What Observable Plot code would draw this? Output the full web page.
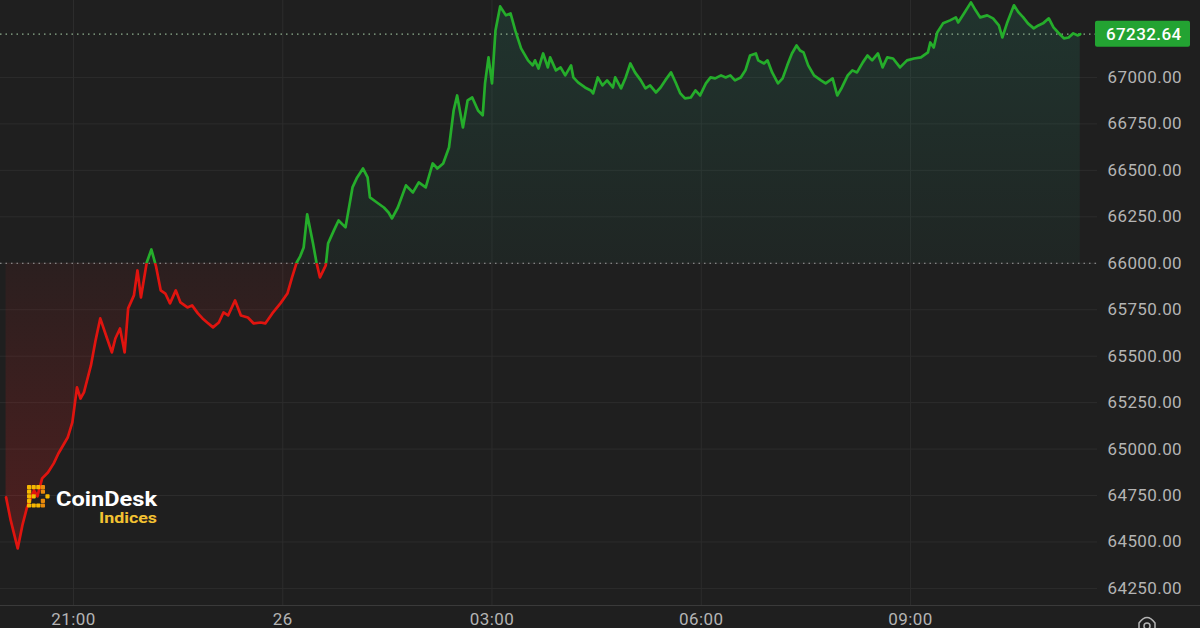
<!DOCTYPE html>
<html><head><meta charset="utf-8">
<script src="https://cdn.jsdelivr.net/npm/d3@7"></script>
<script src="https://cdn.jsdelivr.net/npm/@observablehq/plot@0.6"></script>
<style>
html,body{margin:0;padding:0;background:#1f1f1f;overflow:hidden}
#wrap{position:relative;width:1200px;height:628px;overflow:hidden}
#logo{position:absolute;left:24px;top:482px}
</style></head>
<body><div id="wrap"><div id="chart"></div>
<svg id="logo" width="150" height="50">
  <g id="icon"></g>
  <text x="32" y="24" font-family="Roboto, sans-serif" font-weight="700" font-size="20" fill="#ffffff" textLength="101" lengthAdjust="spacingAndGlyphs">CoinDesk</text>
  <text x="133" y="40.7" text-anchor="end" font-family="Roboto, sans-serif" font-weight="700" font-size="14.5" fill="#f3c232" textLength="58" lengthAdjust="spacingAndGlyphs">Indices</text>
</svg>
</div>
<script>
const times = [
"20:02","20:06","20:12","20:16","20:20","20:26","20:29","20:33","20:38","20:43",
"20:47","20:51","20:55","20:59","21:03","21:06","21:09","21:15","21:19","21:23",
"21:28","21:33","21:36","21:40","21:44","21:47","21:52","21:55","21:58","22:03",
"22:07","22:11","22:15","22:19","22:23","22:28","22:32","22:38","22:42","22:47",
"22:51","22:55","23:00","23:05","23:09","23:13","23:19","23:24","23:30","23:35",
"23:41","23:45","23:51","23:58","00:04","00:08","00:12","00:15","00:18","00:21",
"00:26","00:29","00:32","00:37","00:39","00:44","00:48","00:54","01:00","01:04",
"01:09","01:13","01:15","01:21","01:27","01:31","01:34","01:39","01:46","01:52",
"01:57","02:03","02:09","02:13","02:18","02:23","02:27","02:30","02:35","02:39",
"02:43","02:48","02:52","02:54","02:57","03:00","03:03","03:07","03:12","03:16",
"03:20","03:25","03:31","03:35","03:37","03:40","03:44","03:48","03:50","03:55",
"03:59","04:03","04:08","04:10","04:14","04:20","04:25","04:27","04:31","04:35",
"04:39","04:44","04:46","04:51","04:55","04:59","05:03","05:08","05:12","05:16",
"05:21","05:25","05:29","05:34","05:38","05:42","05:46","05:51","05:55","05:59",
"06:04","06:08","06:12","06:17","06:21","06:25","06:29","06:34","06:38","06:42",
"06:47","06:49","06:54","06:57","07:01","07:06","07:10","07:14","07:18","07:22",
"07:25","07:28","07:32","07:37","07:43","07:47","07:53","07:57","08:01","08:06",
"08:10","08:14","08:19","08:23","08:27","08:32","08:36","08:40","08:45","08:51",
"08:57","09:03","09:09","09:15","09:17","09:20","09:23","09:28","09:34","09:39",
"09:41","09:46","09:52","09:56","10:00","10:06","10:11","10:16","10:19","10:23",
"10:29","10:33","10:37","10:41","10:46","10:50","10:54","10:59","11:03","11:07",
"11:12","11:16","11:20","11:24","11:26"];

const prices = [
64740,64616,64465,64589,64686,64777,64745,64842,64874,64923,
64976,65019,65062,65143,65332,65272,65305,65450,65585,65703,
65611,65520,65595,65649,65520,65757,65827,65961,65816,66004,
66074,65983,65854,65837,65784,65854,65789,65762,65773,65730,
65703,65681,65655,65681,65735,65719,65800,65719,65708,65676,
65681,65676,65730,65784,65837,65924,66004,66037,66085,66263,
66107,66004,65924,65988,66107,66177,66230,66193,66408,66462,
66510,66462,66354,66327,66300,66273,66241,66300,66419,66381,
66435,66408,66537,66510,66537,66623,66822,66903,66731,66876,
66892,66822,66796,66968,67108,66968,67253,67382,67334,67344,
67253,67156,67092,67065,67092,67048,67129,67054,67108,67038,
67054,67011,67065,67000,66973,66946,66930,66914,67000,66957,
66984,66946,67000,66941,67000,67075,67027,66984,66941,66957,
66919,66946,66984,67027,66973,66914,66887,66892,66930,66903,
66968,67000,66995,67011,67000,67011,66984,67000,67038,67118,
67129,67092,67075,67092,67027,66968,66995,67065,67129,67172,
67145,67135,67065,67011,66984,66968,66995,66903,66946,67011,
67038,67027,67081,67118,67092,67129,67054,67108,67102,67054,
67092,67102,67108,67135,67188,67161,67242,67291,67307,67323,
67296,67344,67404,67361,67323,67334,67318,67280,67215,67291,
67388,67350,67323,67291,67264,67280,67291,67318,67269,67242,
67210,67215,67237,67226,67232.64];

const baseline = 66000;
const lastPrice = 67232.64;
const yTicks = [64250,64500,64750,65000,65250,65500,65750,66000,66250,66500,66750,67000];
const xTickTimes = [[25,21,0],[26,0,0],[26,3,0],[26,6,0],[26,9,0]];
const xTickLabels = ["21:00","26","03:00","06:00","09:00"];

const GREEN = "#25ad2b", RED = "#e0140f";

let day = 25, prevH = -1;
const data = times.map((t, i) => {
  const [h, m] = t.split(":").map(Number);
  if (h < prevH) day++;
  prevH = h;
  return {date: new Date(2024, 9, day, h, m), price: prices[i]};
});
const xTicks = xTickTimes.map(([d, h, m]) => new Date(2024, 9, d, h, m));
const xDomain = [new Date(2024, 9, 25, 19, 57, 12), new Date(2024, 9, 26, 11, 40, 52)];
const yDomain = [64158, 67414];

const chart = Plot.plot({
  width: 1200, height: 628,
  marginLeft: 0, marginRight: 103, marginTop: 0, marginBottom: 23,
  style: {background: "#1f1f1f", color: "#b4b4b4", fontFamily: "Roboto, sans-serif", fontSize: "17px", letterSpacing: "0.4px"},
  x: {type: "time", domain: xDomain, ticks: xTicks, tickSize: 0, tickPadding: 7,
      tickFormat: d => xTickLabels[xTicks.findIndex(t => +t === +d)], label: null},
  y: {domain: yDomain, axis: "right", ticks: yTicks, tickSize: 0, tickPadding: 10,
      tickFormat: d => d.toFixed(2), label: null},
  marks: [
    Plot.ruleY(yTicks, {stroke: "#2c2c2c", strokeWidth: 1}),
    Plot.ruleX(xTicks, {stroke: "#2c2c2c", strokeWidth: 1}),
    Plot.areaY(data, {x: "date", y1: d => baseline, y2: d => Math.max(d.price, baseline), fill: "url(#gUp)"}),
    Plot.areaY(data, {x: "date", y1: d => Math.min(d.price, baseline), y2: d => baseline, fill: "url(#gDown)"}),
    Plot.ruleY([baseline], {stroke: "#a0a0a0", strokeWidth: 1.2, strokeDasharray: "1.5,4"}),
    Plot.ruleY([lastPrice], {stroke: "#8fb08f", strokeWidth: 1.2, strokeDasharray: "1.5,4"}),
    Plot.lineY(data, {x: "date", y: "price", stroke: GREEN, strokeWidth: 2.7, strokeLinejoin: "round"}),
    Plot.lineY(data, {x: "date", y: "price", stroke: RED, strokeWidth: 2.7, strokeLinejoin: "round"})
  ]
});
document.getElementById("chart").appendChild(chart);

const svg = d3.select(chart);
const ys = chart.scale("y");
const yb = ys.apply(baseline);
const yBottom = ys.apply(yDomain[0]);
const defs = svg.insert("defs", ":first-child");
const gUp = defs.append("linearGradient").attr("id", "gUp").attr("x1", 0).attr("y1", 0).attr("x2", 0).attr("y2", 1);
gUp.append("stop").attr("offset", 0).attr("stop-color", "rgb(40,170,130)").attr("stop-opacity", 0.15);
gUp.append("stop").attr("offset", 1).attr("stop-color", "rgb(40,170,130)").attr("stop-opacity", 0.05);
const gDown = defs.append("linearGradient").attr("id", "gDown").attr("x1", 0).attr("y1", 0).attr("x2", 0).attr("y2", 1);
gDown.append("stop").attr("offset", 0).attr("stop-color", "rgb(230,30,30)").attr("stop-opacity", 0.06);
gDown.append("stop").attr("offset", 1).attr("stop-color", "rgb(230,30,30)").attr("stop-opacity", 0.24);
defs.append("clipPath").attr("id", "clipUp").append("rect").attr("x", 0).attr("y", -10).attr("width", 1200).attr("height", yb + 10);
defs.append("clipPath").attr("id", "clipDown").append("rect").attr("x", 0).attr("y", yb).attr("width", 1200).attr("height", 700);
const lineGroups = svg.selectAll('g[aria-label="line"]').nodes();
if (lineGroups.length >= 2) {
  d3.select(lineGroups[0]).attr("clip-path", "url(#clipUp)");
  d3.select(lineGroups[1]).attr("clip-path", "url(#clipDown)");
}

svg.append("line").attr("x1", 0).attr("x2", 1200).attr("y1", yBottom + 0.5).attr("y2", yBottom + 0.5).attr("stroke", "#3a3a3a");

const yl = ys.apply(lastPrice);
svg.append("rect").attr("x", 1095).attr("y", yl - 13).attr("width", 95).attr("height", 26).attr("rx", 2).attr("fill", "#23a332");
svg.append("text").attr("x", 1106).attr("y", yl).attr("dy", "0.36em").attr("text-anchor", "start")
  .attr("fill", "#ffffff").attr("font-size", 17).attr("font-weight", 500)
  .attr("font-family", "Roboto, sans-serif").text(lastPrice.toFixed(2));

svg.append("path").attr("d", "M1139,630 L1139,623 Q1147,612 1155,623 L1155,630").attr("fill", "none").attr("stroke", "#b4b4b4").attr("stroke-width", 1.5);
svg.append("circle").attr("cx", 1147).attr("cy", 626).attr("r", 3).attr("fill", "none").attr("stroke", "#b4b4b4").attr("stroke-width", 1.5);

const icon = d3.select("#icon");
const cells = [[0,0,"#f6b800"],[1,0,"#f6b800"],[2,0,"#f6b800"],[3,0,"#e88a0c"],
  [0,1,"#f6b800"],[3,1,"#e88a0c"],
  [0,2,"#f6b800"],[1,2,"#f6b800"],[4,2,"#f6b800"],
  [0,3,"#f6b800"],[3,3,"#e88a0c"],
  [0,4,"#f6b800"],[1,4,"#f6b800"],[2,4,"#f6b800"],[3,4,"#e88a0c"]];
cells.forEach(([cx, cy, c]) => icon.append("rect").attr("x", 3 + cx * 4.6).attr("y", 3 + cy * 4.6).attr("width", 4.2).attr("height", 4.2).attr("rx", 0.8).attr("fill", c));
</script>
</body></html>
